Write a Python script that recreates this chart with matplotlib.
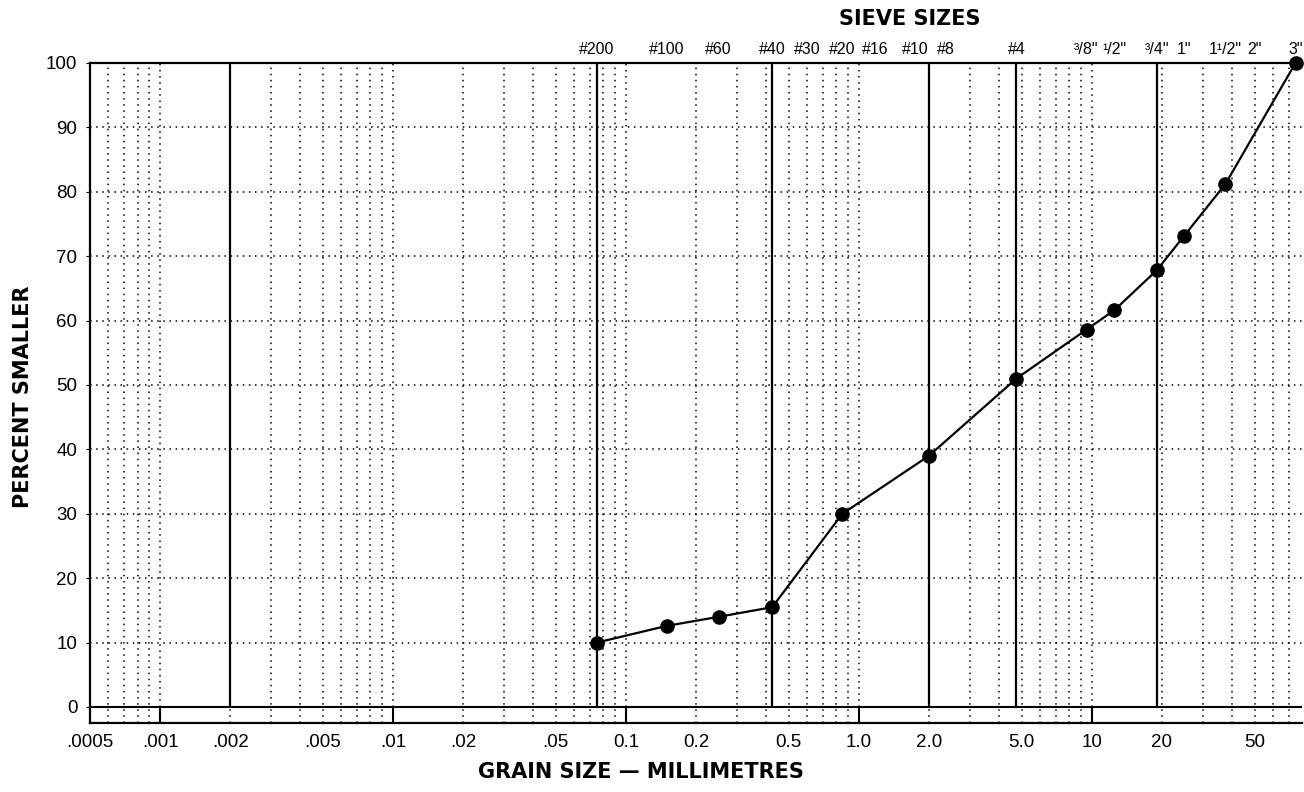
import matplotlib
matplotlib.use('Agg')
import matplotlib.pyplot as plt
from matplotlib.ticker import NullLocator

plt.rcParams['font.family'] = ['Liberation Sans', 'DejaVu Sans']

# Sieve sizes along the top (label, opening in mm)
sieve_labels = ['#200', '#100', '#60', '#40', '#30', '#20', '#16', '#10', '#8', '#4',
                '³/8"', '¹/2"', '³/4"', '1"', '1¹/2"', '2"', '3"']
sieve_mm = [0.075, 0.15, 0.25, 0.425, 0.6, 0.85, 1.18, 2.0, 2.36, 4.75,
            9.5, 12.5, 19.0, 25.0, 37.5, 50.0, 75.0]

# Grain size labels along the bottom
grain_labels = ['.0005', '.001', '.002', '.005', '.01', '.02', '.05', '0.1', '0.2',
                '0.5', '1.0', '2.0', '5.0', '10', '20', '50']
grain_mm = [0.0005, 0.001, 0.002, 0.005, 0.01, 0.02, 0.05, 0.1, 0.2,
            0.5, 1.0, 2.0, 5.0, 10, 20, 50]

# Soil class boundaries (heavy vertical lines)
boundary_mm = [0.002, 0.075, 0.425, 2.0, 4.75, 19.0]

# Grading curve
curve_mm = [0.075, 0.15, 0.25, 0.425, 0.85, 2.0, 4.75, 9.5, 12.5, 19.0, 25.0, 37.5, 75.0]
curve_pct = [10.0, 12.6, 14.0, 15.5, 30.0, 39.0, 51.0, 58.6, 61.6, 67.8, 73.2, 81.2, 100.0]

dots = (0, (1, 3))

fig = plt.figure(figsize=(13.04, 7.92), dpi=100)
ax = fig.add_axes([0.069, 0.087, 0.9295, 0.8335])
ax.set_xscale('log')
ax.set_xlim(0.0005, 80)
ax.set_ylim(-2.5, 100)

# log grid: dotted minor lines, decade lines solid only in the bottom strip
for d in range(-4, 2):
    for m in range(1, 10):
        v = m * 10.0 ** d
        if v <= 0.0005 or v >= 80:
            continue
        if m == 1:
            ax.vlines(v, 0, 100, colors='black', linestyles=dots, lw=1.1)
            ax.vlines(v, -2.5, 0, colors='black', lw=1.5)
        else:
            ax.vlines(v, -2.5, 100, colors='black', linestyles=dots, lw=1.1)

for y in range(10, 100, 10):
    ax.axhline(y, color='black', linestyle=dots, lw=1.1)
ax.axhline(0, color='black', lw=1.5)

ax.vlines(boundary_mm, 0, 100, colors='black', lw=1.6)

ax.plot(curve_mm, curve_pct, color='black', lw=1.6, marker='o', markersize=9.5,
        clip_on=False, zorder=5)

for s in ax.spines.values():
    s.set_linewidth(1.6)
ax.spines['right'].set_visible(False)

ax.set_yticks(range(0, 101, 10))
ax.tick_params(axis='y', length=3, labelsize=13.5, pad=6)
ax.set_xticks(grain_mm, grain_labels)
ax.xaxis.set_minor_locator(NullLocator())
ax.tick_params(axis='x', length=0, labelsize=13.5, pad=8)

top = ax.secondary_xaxis('top')
top.set_xticks(sieve_mm, sieve_labels)
top.xaxis.set_minor_locator(NullLocator())
top.tick_params(length=0, labelsize=11.5, pad=4)
top.spines['top'].set_visible(False)
# '#10' and '#8' sit close together: push #10 to the left of its line
for lab in top.get_xticklabels():
    if lab.get_text() == '#10':
        lab.set_ha('right')

title_font = dict(family='DejaVu Sans', fontsize=15, fontweight='bold')
fig.text(0.698, 0.976, 'SIEVE SIZES', ha='center', va='center', **title_font)
fig.text(0.4916, 0.025, 'GRAIN SIZE — MILLIMETRES', ha='center', va='center', **title_font)
fig.text(0.018, 0.499, 'PERCENT SMALLER', ha='center', va='center',
         rotation=90, **title_font)

fig.savefig('out.png', dpi=100)
